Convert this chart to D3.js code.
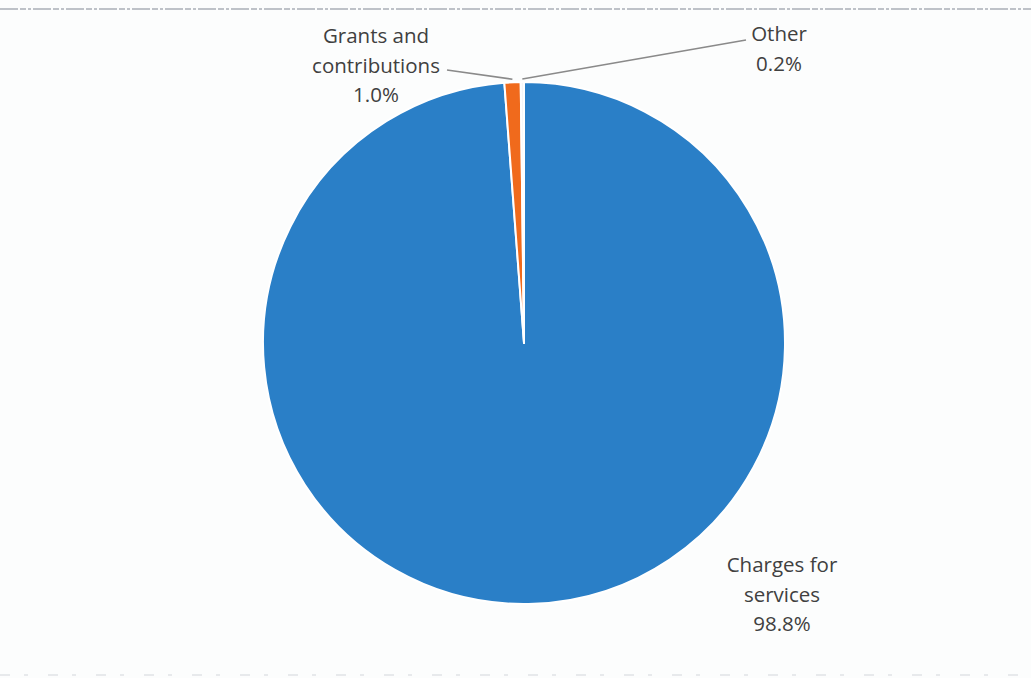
<!DOCTYPE html>
<html>
<head>
<meta charset="utf-8">
<script src="https://cdn.jsdelivr.net/npm/d3@7"></script>
<style>
  html, body { margin: 0; padding: 0; background: #fcfdfd; }
  svg { display: block; }
  text { font-family: "Open Sans", "Liberation Sans", sans-serif; fill: #404040; }
</style>
</head>
<body>
<svg id="chart" width="1031" height="678"></svg>
<script>
// Revenue sources, share of total
const categories = ["Charges for services", "Grants and contributions", "Other"];
const shares = [98.8, 1.0, 0.2];
const labelLines = [["Charges for", "services"], ["Grants and", "contributions"], ["Other"]];
const colors = ["#2a7fc7", "#f06a1c", "#f4f6f8"];

const svg = d3.select("#chart");
const W = 1031, H = 678;
const cx = 524, cy = 343, R = 261;

// faint rule along the top and bottom edges of the page
svg.append("line").attr("x1", 0).attr("x2", W).attr("y1", 9).attr("y2", 9)
  .attr("stroke", "#a9aeb7").attr("stroke-width", 1.3).attr("stroke-dasharray", "18 2 6 2 3 2");
svg.append("line").attr("x1", 0).attr("x2", W).attr("y1", 675).attr("y2", 675)
  .attr("stroke", "#d3d6db").attr("stroke-width", 1).attr("stroke-dasharray", "10 14 4 20");

const data = categories.map((c, i) => ({ name: c, value: shares[i], lines: labelLines[i], color: colors[i] }));

const pie = d3.pie().value(d => d.value).sort(null).startAngle(0).endAngle(2 * Math.PI);
const arcs = pie(data);
const arc = d3.arc().innerRadius(0).outerRadius(R);

const g = svg.append("g").attr("transform", `translate(${cx},${cy})`);
g.selectAll("path").data(arcs).join("path")
  .attr("d", arc)
  .attr("fill", d => d.data.color)
  .attr("stroke", "#ffffff")
  .attr("stroke-width", 2)
  .attr("stroke-linejoin", "round");

const fmt = d3.format(".1f");
const fontSize = 20.5, lineH = 29.5;

// label anchor positions (text block centre x, first baseline y)
const labelPos = {
  "Charges for services": { x: 782, y: 572 },
  "Grants and contributions": { x: 376, y: 43 },
  "Other": { x: 779, y: 41 }
};

data.forEach(d => {
  const p = labelPos[d.name];
  const lines = d.lines.concat([fmt(d.value) + "%"]);
  const t = svg.append("text").attr("text-anchor", "middle").attr("font-size", fontSize);
  lines.forEach((s, i) => {
    t.append("tspan").attr("x", p.x).attr("y", p.y + i * lineH).text(s);
  });
});

// leader lines from labels to the thin slices' outer edges
function edgePoint(a, r) {
  return [cx + r * Math.sin(a), cy - r * Math.cos(a)];
}
const grantsMid = (arcs[1].startAngle + arcs[1].endAngle) / 2;
const otherMid = (arcs[2].startAngle + arcs[2].endAngle) / 2;
const gp = edgePoint(grantsMid, R + 3);
const op = edgePoint(otherMid, R + 3);

svg.append("polyline")
  .attr("points", [[447, 70], gp].map(p => p.join(",")).join(" "))
  .attr("fill", "none").attr("stroke", "#8a8a8a").attr("stroke-width", 1.6);
svg.append("polyline")
  .attr("points", [[746, 40], op].map(p => p.join(",")).join(" "))
  .attr("fill", "none").attr("stroke", "#8a8a8a").attr("stroke-width", 1.6);
</script>
</body>
</html>
